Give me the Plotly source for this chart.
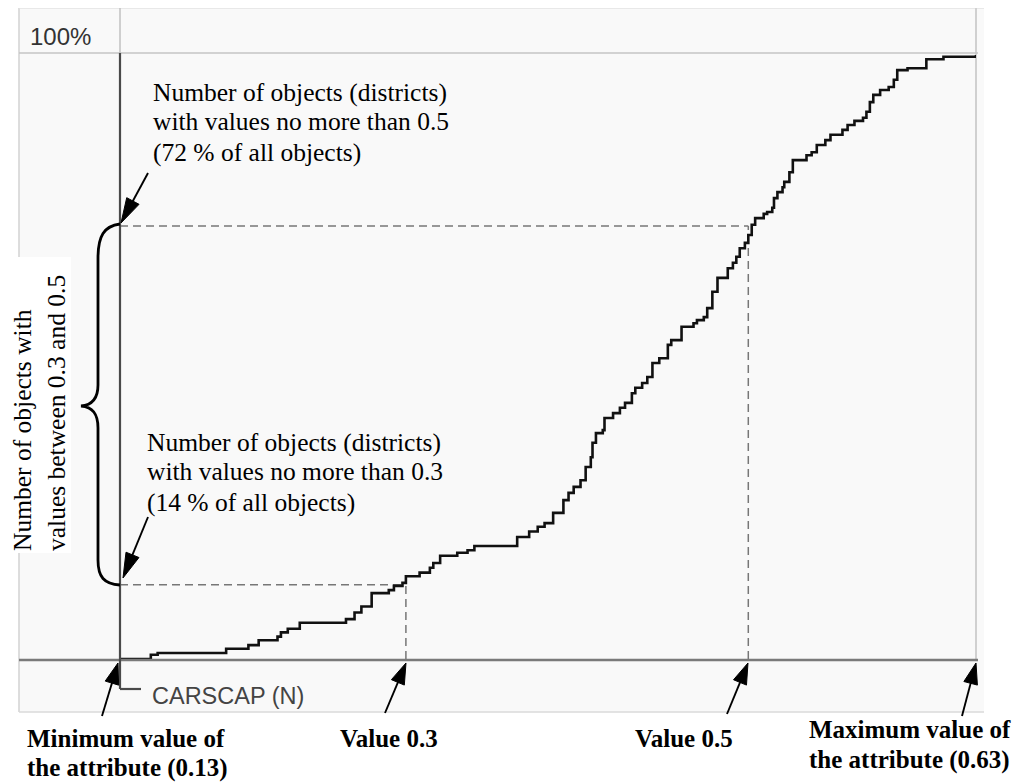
import math
import plotly.graph_objects as go

# ---- data ----
attr_values = [0.130, 0.148, 0.152, 0.192, 0.205, 0.211, 0.222, 0.224, 0.228, 0.235,
               0.262, 0.267, 0.271, 0.277, 0.287, 0.290, 0.295, 0.297, 0.305, 0.311,
               0.313, 0.317, 0.327, 0.333, 0.337, 0.362, 0.369, 0.374, 0.378, 0.383,
               0.389, 0.392, 0.395, 0.399, 0.402, 0.405, 0.406, 0.408, 0.412, 0.413,
               0.418, 0.422, 0.425, 0.429, 0.431, 0.435, 0.438, 0.441, 0.445, 0.450,
               0.452, 0.458, 0.465, 0.467, 0.471, 0.473, 0.476, 0.479, 0.485, 0.488,
               0.490, 0.492, 0.495, 0.497, 0.499, 0.501, 0.506, 0.508, 0.511, 0.512,
               0.514, 0.517, 0.518, 0.521, 0.523, 0.531, 0.534, 0.537, 0.542, 0.545,
               0.552, 0.555, 0.559, 0.564, 0.566, 0.568, 0.570, 0.574, 0.579, 0.582,
               0.584, 0.590, 0.601, 0.611, 0.630]
cum_percent = [0, 0.7, 1.0, 1.7, 2.3, 3.1, 3.7, 4.4, 5.0, 6.0,
               6.6, 7.7, 8.7, 10.9, 11.4, 12.1, 12.6, 13.7, 14.3, 15.1,
               15.9, 17.1, 17.6, 18.0, 18.7, 20.2, 21.1, 21.9, 22.5, 24.2,
               26.3, 27.5, 28.5, 29.6, 31.8, 33.4, 35.8, 37.4, 37.9, 39.9,
               40.7, 41.6, 42.4, 44.0, 44.9, 45.7, 46.7, 49.0, 49.8, 52.0,
               52.8, 55.0, 55.6, 56.1, 56.6, 58.1, 60.8, 63.1, 64.7, 65.6,
               66.6, 68.0, 68.9, 70.2, 71.9, 73.0, 73.7, 74.0, 74.7, 76.3,
               77.3, 78.1, 79.0, 80.6, 82.6, 83.4, 83.9, 85.1, 85.9, 86.8,
               87.6, 88.4, 89.1, 89.6, 90.6, 92.2, 93.4, 94.2, 94.7, 95.9,
               97.5, 97.8, 99.3, 99.7, 100]

x_min, x_max = 0.13, 0.63
marker_values = [0.297, 0.497]      # dashed guide positions (labelled 0.3 and 0.5)
marker_percents = [12.3, 71.7]      # where the guides meet the curve

top_label = "100%"
axis_label = "CARSCAP (N)"

# page has an 8px body margin; figure is sized to fit inside the window
OFF = 8
FW, FH = 1012, 775
L, R, T, B = 120, 976, 55, 659   # plot area in page pixels


def P(px, py):
    return (px - L) / (R - L), (B - py) / (B - T)


fig = go.Figure()
fig.add_trace(go.Scatter(x=attr_values, y=cum_percent, mode="lines",
                         line=dict(color="#111111", width=2.6, shape="hv"),
                         cliponaxis=False, showlegend=False, hoverinfo="skip"))

shapes = []


def seg(x0, y0, x1, y1, color, width, layer="below", dash=None):
    a, b = P(x0, y0)
    c, d = P(x1, y1)
    ln = dict(color=color, width=width)
    if dash:
        ln["dash"] = dash
    shapes.append(dict(type="line", xref="paper", yref="paper", x0=a, y0=b, x1=c, y1=d,
                       line=ln, layer=layer))


# panel
a, b = P(19, 712)
c, d = P(984, 8)
shapes.append(dict(type="rect", xref="paper", yref="paper", x0=a, y0=b, x1=c, y1=d,
                   fillcolor="#f9f9f9", line=dict(width=0), layer="below"))
seg(19, 8, 19, 712, "#d2d2d2", 1.5)
seg(19, 8, 984, 8, "#e2e2e2", 1.5)
seg(19, 712, 984, 712, "#dadada", 1.5)
seg(976, 8, 976, 660, "#d0d0d0", 2)
seg(19, 53, 978, 53, "#c4c4c4", 1.5)
seg(120, 8, 120, 53, "#c0c0c0", 1.5)

# dashed guides (data coordinates)
for v, p in zip(marker_values, marker_percents):
    shapes.append(dict(type="line", xref="x", yref="y", x0=x_min, x1=v, y0=p, y1=p,
                       line=dict(color="#777777", width=1.5, dash="8px,5px"), layer="below"))
    shapes.append(dict(type="line", xref="x", yref="y", x0=v, x1=v, y0=0, y1=p,
                       line=dict(color="#777777", width=1.5, dash="8px,5px"), layer="below"))

# axes lines
seg(19, 660, 978, 660, "#7a7a7a", 2.5, layer="above")
seg(120, 53, 120, 689, "#4a4a4a", 2.2, layer="above")
seg(120, 689, 141, 689, "#4a4a4a", 2.2, layer="above")

# white box behind rotated text
a, b = P(0, 553)
c, d = P(71, 257)
shapes.append(dict(type="rect", xref="paper", yref="paper", x0=a, y0=b, x1=c, y1=d,
                   fillcolor="white", line=dict(width=0), layer="above"))


def path_str(cmds):
    out = []
    for cmd in cmds:
        parts = []
        for (px, py) in cmd[1:]:
            xx, yy = P(px, py)
            parts.append(f"{xx:.5f},{yy:.5f}")
        out.append(cmd[0] + " ".join(parts))
    return " ".join(out)


# curly brace
brace = [("M", (120, 224)),
         ("C", (104, 226), (98, 236), (98, 258)),
         ("L", (98, 385)),
         ("C", (98, 398), (93, 405), (81, 406)),
         ("C", (93, 407), (98, 414), (98, 428)),
         ("L", (98, 560)),
         ("C", (98, 577), (104, 584), (120, 585))]
shapes.append(dict(type="path", xref="paper", yref="paper", path=path_str(brace),
                   line=dict(color="black", width=2.8), layer="above"))


def arrow(tail, tip, hl=20, hw=6):
    x0, y0 = tail
    x1, y1 = tip
    dx, dy = x1 - x0, y1 - y0
    n = math.hypot(dx, dy)
    ux, uy = dx / n, dy / n
    bx, by = x1 - ux * hl, y1 - uy * hl
    seg(x0, y0, bx + ux * 2, by + uy * 2, "black", 1.9, layer="above")
    p1 = (bx - uy * hw, by + ux * hw)
    p2 = (bx + uy * hw, by - ux * hw)
    shapes.append(dict(type="path", xref="paper", yref="paper",
                       path=path_str([("M", (x1, y1)), ("L", p1), ("L", p2)]) + " Z",
                       fillcolor="black", line=dict(color="black", width=1), layer="above"))


arrow((148, 173), (121, 223), hl=25, hw=7)
arrow((148, 517), (123, 578), hl=25, hw=7)
arrow((102, 716), (118, 663), hl=21, hw=7)
arrow((385, 713), (406, 663), hl=21, hw=7)
arrow((727, 714), (748, 663), hl=21, hw=7)
arrow((962, 716), (976, 663), hl=21, hw=7)

annotations = []


def text(px, py, s, size=25.5, bold=False, family="Liberation Serif", color="black",
         xanchor="left"):
    xx, yy = P(px, py)
    annotations.append(dict(xref="paper", yref="paper", x=xx, y=yy,
                            text=(f"<b>{s}</b>" if bold else s),
                            showarrow=False, xanchor=xanchor, yanchor="middle",
                            font=dict(family=family, size=size, color=color)))


def block(px, py0, lines, step=30, **kw):
    for i, s in enumerate(lines):
        text(px, py0 + i * step, s, **kw)


block(151, 92, ["Number of objects (districts)", "with values no more than 0.5",
                "(72 % of all objects)"])
block(145, 442, ["Number of objects (districts)", "with values no more than 0.3",
                 "(14 % of all objects)"])
block(25, 738, ["Minimum value of", "the attribute (0.13)"], bold=True, size=25)
text(338, 738, "Value 0.3", bold=True, size=25)
text(633, 738, "Value 0.5", bold=True, size=25)
block(807, 729, ["Maximum value of", "the attribute (0.63)"], step=31, bold=True, size=25)

text(28, 37, top_label, size=24, family="Liberation Sans", color="#333333")
text(150, 696, axis_label, size=23.5, family="Liberation Sans", color="#444444")

# rotated text
for cx, s in [(22, "Number of objects with"), (56, "values between 0.3 and 0.5")]:
    xx, yy = P(cx, 553)
    annotations.append(dict(xref="paper", yref="paper", x=xx, y=yy, text=s, textangle=-90,
                            showarrow=False, xanchor="center", yanchor="bottom",
                            font=dict(family="Liberation Serif", size=25.5, color="black")))

fig.update_layout(
    width=FW, height=FH, autosize=False,
    margin=dict(l=L - OFF, r=FW - (R - OFF), t=T - OFF, b=FH - (B - OFF), pad=0),
    paper_bgcolor="white", plot_bgcolor="rgba(0,0,0,0)",
    xaxis=dict(range=[x_min, x_max], visible=False, fixedrange=True),
    yaxis=dict(range=[0, 100], visible=False, fixedrange=True),
    shapes=shapes, annotations=annotations, showlegend=False,
)

fig.write_html("out.html", config={"displayModeBar": False})
